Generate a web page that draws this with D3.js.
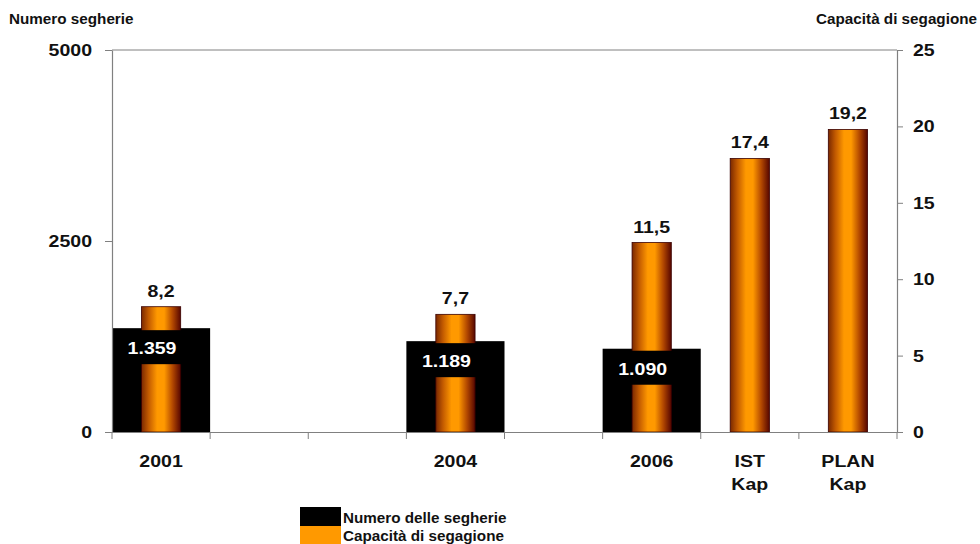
<!DOCTYPE html>
<html>
<head>
<meta charset="utf-8">
<script src="https://cdn.jsdelivr.net/npm/d3@7"></script>
<style>
  html, body { margin: 0; padding: 0; background: #fff; }
  svg { display: block; font-family: "Liberation Sans", Arial, sans-serif; }
</style>
</head>
<body>
<svg id="chart" width="980" height="544"></svg>
<script>
// ---- data ----
const categories = ["2001", "2002", "2003", "2004", "2005", "2006", "IST Kap", "PLAN Kap"];
const tickLabels = [["2001"], [""], [""], ["2004"], [""], ["2006"], ["IST", "Kap"], ["PLAN", "Kap"]];
const segherie = [1359, null, null, 1189, null, 1090, null, null];
const segherieLabels = ["1.359", "", "", "1.189", "", "1.090", "", ""];
const capacita = [8.2, null, null, 7.7, null, 12.4, 17.9, 19.8];
const capacitaLabels = ["8,2", "", "", "7,7", "", "11,5", "17,4", "19,2"];
const leftTicks = [0, 2500, 5000];
const rightTicks = [0, 5, 10, 15, 20, 25];
const legendLabels = ["Numero delle segherie", "Capacità di segagione"];

// ---- layout ----
const svg = d3.select("#chart");
const L = 112, R = 897, T = 50, B = 432;
const x = d3.scaleBand().domain(categories).range([L, R]).padding(0);
const yL = d3.scaleLinear().domain([0, 5000]).range([B, T]);
const yR = d3.scaleLinear().domain([0, 25]).range([B, T]);
const axisColor = "#808080";
const BIG = 17, BIGSX = 1.15, SMALL = 14, SMALLSX = 1.09;

// horizontal stretch helper (reference text is wider than Liberation Sans)
function stretch(sel, sx) {
  sel.each(function () {
    const t = d3.select(this);
    const xv = +t.attr("x") || 0;
    t.attr("x", xv / sx).attr("transform", `scale(${sx},1)`);
    t.selectAll("tspan").each(function () {
      const s = d3.select(this);
      if (s.attr("x") != null) s.attr("x", +s.attr("x") / sx);
    });
  });
}

const defs = svg.append("defs");
const grad = defs.append("linearGradient").attr("id", "og").attr("x1", "0%").attr("x2", "100%").attr("y1", "0%").attr("y2", "0%");
grad.append("stop").attr("offset", "0%").attr("stop-color", "#7a2800");
grad.append("stop").attr("offset", "18%").attr("stop-color", "#c25a00");
grad.append("stop").attr("offset", "40%").attr("stop-color", "#ff9900");
grad.append("stop").attr("offset", "58%").attr("stop-color", "#ff9900");
grad.append("stop").attr("offset", "80%").attr("stop-color", "#b04600");
grad.append("stop").attr("offset", "100%").attr("stop-color", "#560600");

// top border
svg.append("line").attr("x1", L).attr("x2", R).attr("y1", T).attr("y2", T)
  .attr("stroke", axisColor).attr("stroke-width", 1);

const rows = categories.map((c, i) => ({ c, i, s: segherie[i], sl: segherieLabels[i], k: capacita[i], kl: capacitaLabels[i] }));

// black bars
svg.append("g").selectAll("rect").data(rows.filter(d => d.s != null)).join("rect")
  .attr("x", d => x(d.c)).attr("width", x.bandwidth())
  .attr("y", d => yL(d.s)).attr("height", d => yL(0) - yL(d.s))
  .attr("fill", "#000");

// orange bars
const ow = x.bandwidth() * 0.4;
svg.append("g").selectAll("rect").data(rows.filter(d => d.k != null)).join("rect")
  .attr("x", d => x(d.c) + (x.bandwidth() - ow) / 2).attr("width", ow)
  .attr("y", d => yR(d.k)).attr("height", d => yR(0) - yR(d.k))
  .attr("fill", "url(#og)").attr("stroke", "#3a0000").attr("stroke-width", 0.8);

// segherie labels with black background
const sl = svg.append("g").selectAll("g").data(rows.filter(d => d.s != null)).join("g");
sl.append("rect")
  .attr("x", d => x(d.c) + (x.bandwidth() - ow) / 2 - 2).attr("width", ow + 4)
  .attr("y", d => yL(d.s) + 2).attr("height", 34).attr("fill", "#000");
stretch(sl.append("text")
  .attr("x", d => x(d.c) + x.bandwidth() / 2 - 9).attr("y", d => yL(d.s) + 26)
  .attr("text-anchor", "middle").attr("fill", "#fff").attr("font-weight", "bold").attr("font-size", BIG)
  .text(d => d.sl), BIGSX);

// capacita labels
stretch(svg.append("g").selectAll("text").data(rows.filter(d => d.k != null)).join("text")
  .attr("x", d => x(d.c) + x.bandwidth() / 2).attr("y", d => yR(d.k) - 10)
  .attr("text-anchor", "middle").attr("fill", "#111").attr("font-weight", "bold").attr("font-size", BIG)
  .text(d => d.kl), BIGSX);

// axes
const gL = svg.append("g").attr("transform", `translate(${L},0)`)
  .call(d3.axisLeft(yL).tickValues(leftTicks).tickSize(7).tickSizeOuter(0).tickPadding(13).tickFormat(d3.format("d")));
const gR = svg.append("g").attr("transform", `translate(${R},0)`)
  .call(d3.axisRight(yR).tickValues(rightTicks).tickSize(6).tickSizeOuter(0).tickPadding(10).tickFormat(d3.format("d")));
const gB = svg.append("g").attr("transform", `translate(0,${B})`)
  .call(d3.axisBottom(x).tickValues([]).tickSizeOuter(0));
[gL, gR, gB].forEach(g => {
  g.selectAll("path.domain").attr("stroke", axisColor).attr("stroke-width", 1.2);
  g.selectAll(".tick line").attr("stroke", axisColor);
  const tt = g.selectAll(".tick text").attr("fill", "#111").attr("font-weight", "bold").attr("font-size", BIG)
    .attr("font-family", "Liberation Sans, Arial, sans-serif");
  stretch(tt, BIGSX);
});
gB.select("path.domain").attr("d", `M${L - 7},0.5H${R + 6}`);

// x boundary ticks
const bounds = categories.map(c => x(c)).concat([R]);
svg.append("g").selectAll("line").data(bounds).join("line")
  .attr("x1", d => d).attr("x2", d => d).attr("y1", B).attr("y2", B + 7)
  .attr("stroke", axisColor).attr("stroke-width", 1);

// x labels
const xl = svg.append("g").selectAll("text").data(categories.map((c, i) => ({ c, lines: tickLabels[i] }))).join("text")
  .attr("text-anchor", "middle").attr("fill", "#111").attr("font-weight", "bold").attr("font-size", BIG);
xl.each(function (d) {
  const t = d3.select(this);
  d.lines.forEach((ln, j) => {
    t.append("tspan").attr("x", x(d.c) + x.bandwidth() / 2).attr("y", 467 + j * 23).text(ln);
  });
});
stretch(xl, BIGSX);

// axis titles
stretch(svg.append("text").attr("x", 9).attr("y", 24).attr("font-weight", "bold").attr("font-size", SMALL).attr("fill", "#111")
  .text("Numero segherie"), SMALLSX);
stretch(svg.append("text").attr("x", 977).attr("y", 24).attr("text-anchor", "end").attr("font-weight", "bold").attr("font-size", SMALL).attr("fill", "#111")
  .text("Capacità di segagione"), SMALLSX);

// legend
const legendColors = ["#000", "#ff9900"];
const lg = svg.append("g").selectAll("g").data(legendLabels).join("g");
lg.append("rect").attr("x", 300).attr("y", (d, i) => 507 + i * 19).attr("width", 41).attr("height", 19)
  .attr("fill", (d, i) => legendColors[i]);
stretch(lg.append("text").attr("x", 343).attr("y", (d, i) => 523 + i * 18).attr("font-weight", "bold").attr("font-size", SMALL)
  .attr("fill", "#111").text(d => d), SMALLSX);
</script>
</body>
</html>
